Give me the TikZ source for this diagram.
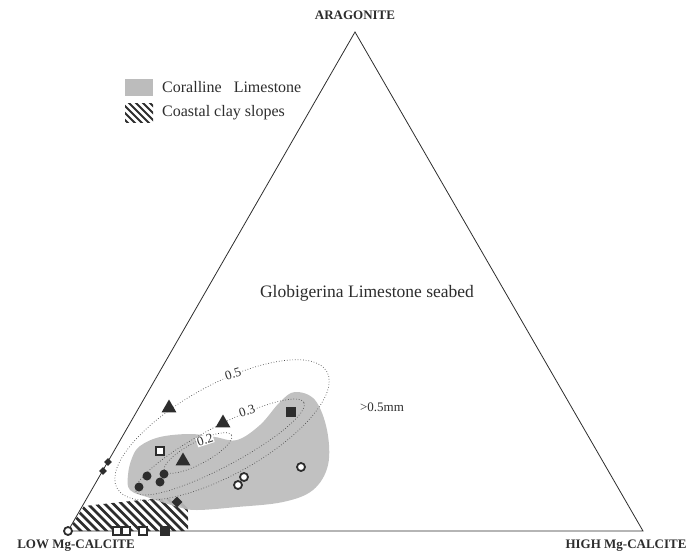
\documentclass[tikz,border=0pt]{standalone}
\usepackage{fontspec}
\setmainfont{Liberation Serif}
\usetikzlibrary{shapes.geometric}
\definecolor{ink}{RGB}{45,45,45}
\definecolor{screen}{RGB}{188,188,188}
\begin{document}
\begin{tikzpicture}[x=1pt,y=-1pt,
  corner/.style={font=\fontsize{13}{15}\selectfont\bfseries, text=ink, inner sep=0pt},
  plain/.style={text=ink, inner sep=0pt},
  contour/.style={ink!85, line width=0.7pt, dotted},
  clab/.style={font=\fontsize{13}{15}\selectfont, text=ink, fill=white, inner sep=0.5pt, rotate=18},
  ftri/.style={regular polygon, regular polygon sides=3, fill=ink, minimum size=17pt, inner sep=0pt},
  fsq/.style={rectangle, fill=ink, minimum size=10pt, inner sep=0pt},
  osq/.style={rectangle, draw=ink, line width=1.8pt, fill=white, minimum size=8.5pt, inner sep=0pt},
  fdot/.style={circle, fill=ink, minimum size=9pt, inner sep=0pt},
  odot/.style={circle, draw=ink, line width=1.8pt, fill=white, minimum size=8pt, inner sep=0pt},
  fdia/.style={diamond, fill=ink, minimum size=8pt, inner sep=0pt},
  hatchline/.style={ink, line width=2.8pt}
]
\useasboundingbox (0,0) rectangle (688,557);

% corners
\coordinate (A) at (355,32);
\coordinate (L) at (68,531);
\coordinate (R) at (643,531);

% coastal clay slopes (hatched)
\begin{scope}
  \clip (L) -- (84,506) -- (150,499) -- (176,498) to[out=0,in=90] (188,512) -- (188,531) -- cycle;
  \foreach \i in {0,...,20} \draw[hatchline] (40+\i*8.5,490) -- ++(50,50);
\end{scope}

% coralline limestone (screened)
\fill[screen, opacity=0.92] plot[smooth cycle, tension=0.6] coordinates {
  (140,446) (160,437) (190,434) (215,437) (237,440) (260,425) (280,402)
  (295,392) (315,400) (327,430) (328,465) (313,490) (283,502) (237,507)
  (197,510) (178,507) (150,498) (130,490) (128,475) (132,458)};

% triangle
\draw[ink, line width=0.8pt] (A) -- (L) -- (R) -- cycle;

% contours
\draw[contour, rotate around={29:(222,430)}] (222,430) ellipse [x radius=120pt, y radius=45pt];
\draw[contour, rotate around={28:(220,447)}] (220,447) ellipse [x radius=95pt, y radius=20pt];
\draw[contour, rotate around={28:(198,453)}] (198,453) ellipse [x radius=38pt, y radius=11pt];
\node[clab] (c5) at (233,374) {0.5};
\node[clab] (c3) at (247,411) {0.3};
\node[clab] (c2) at (205,440) {0.2};

% texts
\node[corner] (tA) at (355,15) {ARAGONITE};
\node[corner] (tL) at (76,546) {LOW Mg-CALCITE};
\node[corner] (tR) at (626,546) {HIGH Mg-CALCITE};
\node[plain, font=\fontsize{17.5}{19}\selectfont] (glob) at (367,293) {Globigerina Limestone seabed};
\node[plain, font=\fontsize{13}{15}\selectfont] (mm) at (382,407) {>0.5mm};

% legend
\fill[screen] (125,79) rectangle (153,96);
\begin{scope}
  \clip (125,103) rectangle (153,122);
  \foreach \i in {0,...,8} \draw[ink, line width=2pt] (105+\i*7,100) -- ++(25,25);
\end{scope}
\node[plain, anchor=west, font=\fontsize{16}{18}\selectfont] (leg1) at (162,87) {Coralline\ \ \ Limestone};
\node[plain, anchor=west, font=\fontsize{16}{18}\selectfont] (leg2) at (162,113) {Coastal clay slopes};

% samples
\node[ftri] (t1) at (169,408) {};
\node[ftri] (t2) at (223,423) {};
\node[ftri] (t3) at (183,461) {};
\node[fsq] (s1) at (291,412) {};
\node[osq] (s2) at (160,451) {};
\node[fdot] (d1) at (147,476) {};
\node[fdot] (d2) at (139,487) {};
\node[fdot] (d3) at (164,474) {};
\node[fdot] (d4) at (160,482) {};
\node[fdia, minimum size=11pt] (d5) at (177,502) {};
\node[odot] (o1) at (244,477) {};
\node[odot] (o2) at (238,485) {};
\node[odot] (o3) at (301,467) {};
\node[fdia] (e1) at (108,462) {};
\node[fdia] (e2) at (103,471) {};
\node[odot] (b1) at (68,531) {};
\node[osq] (b2) at (117,531) {};
\node[osq] (b3) at (126,531) {};
\node[osq] (b4) at (143,531) {};
\node[fsq] (b5) at (165,531) {};
\end{tikzpicture}
\end{document}
